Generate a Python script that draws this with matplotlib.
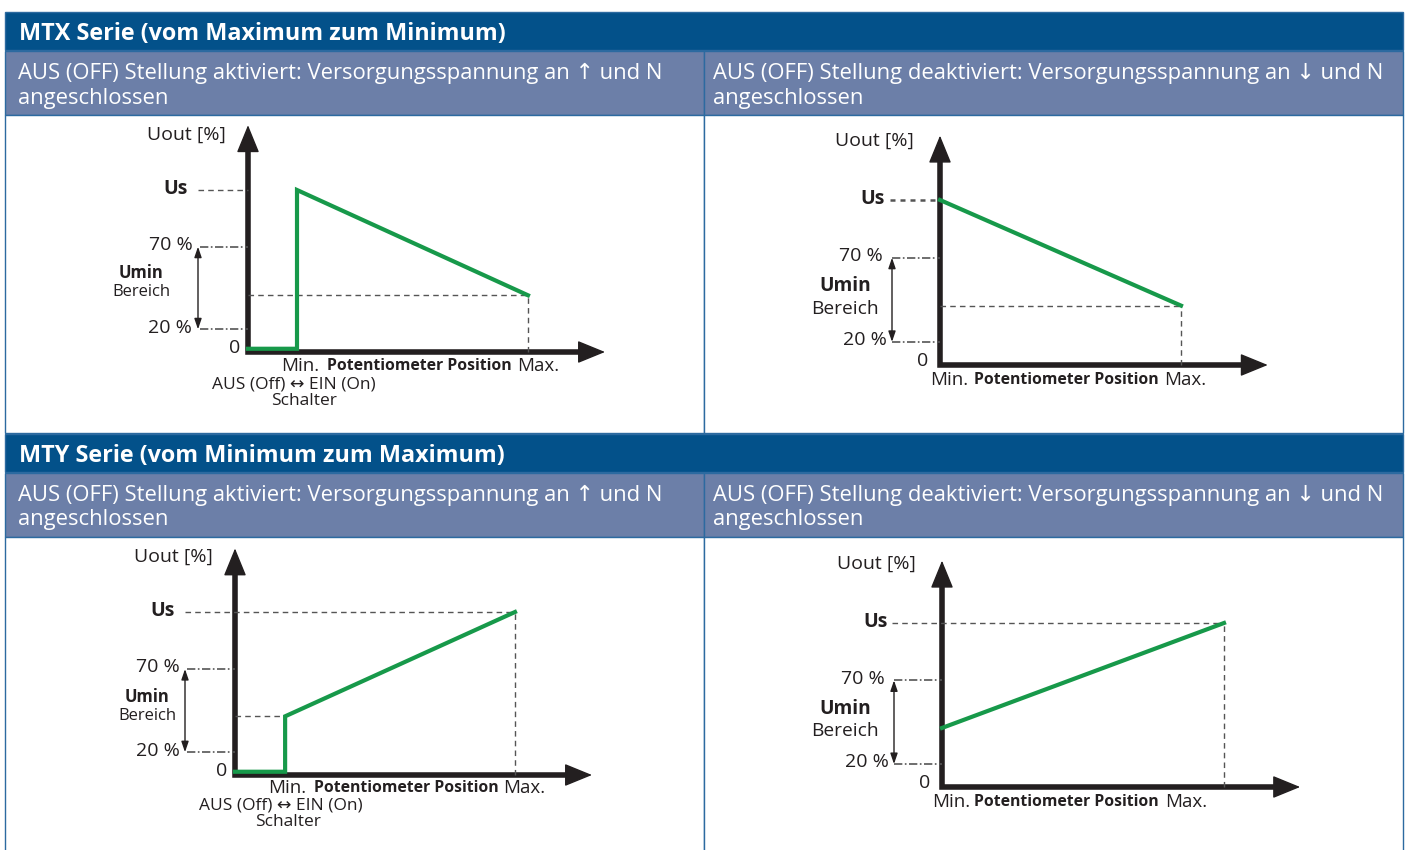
import matplotlib
matplotlib.use("Agg")
import matplotlib.pyplot as plt
from matplotlib.patches import Rectangle

plt.rcParams['font.family'] = ['Open Sans', 'DejaVu Sans']

W, H = 1406, 850
DARK = "#03518a"
LIGHT = "#6c7fa8"
BORDER = "#2c6aa0"
GREEN = "#17994a"
INK = "#231f20"
GREY = "#555555"

# texts
titles = ["MTX Serie (vom Maximum zum Minimum)", "MTY Serie (vom Minimum zum Maximum)"]
sub_on = ["AUS (OFF) Stellung aktiviert: Versorgungsspannung an \u2191 und N", "angeschlossen"]
sub_off = ["AUS (OFF) Stellung deaktiviert: Versorgungsspannung an \u2193 und N", "angeschlossen"]

# curve data: x = potentiometer position (0 = Min, 1 = Max), y = Uout (100 = Us)
mtx_on_x = [0.0, 0.175, 0.175, 1.0]
mtx_on_y = [2.0, 2.0, 100.0, 35.0]
mtx_off_x = [0.0, 1.0]
mtx_off_y = [100.0, 36.0]
mty_on_x = [0.0, 0.179, 0.179, 1.0]
mty_on_y = [2.0, 2.0, 36.0, 100.0]
mty_off_x = [0.0, 1.0]
mty_off_y = [36.0, 100.0]
level_70 = 65.0
level_20 = 14.0

fig = plt.figure(figsize=(W / 100, H / 100), dpi=100)
bg = fig.add_axes([0, 0, 1, 1])
bg.set_xlim(0, W)
bg.set_ylim(H, 0)
bg.axis("off")

# table structure
for top in [12, 434]:
    bg.add_patch(Rectangle((5, top), 1398, 38, facecolor=DARK, edgecolor=BORDER, lw=1))
    bg.add_patch(Rectangle((5, top + 39), 699, 64, facecolor=LIGHT, edgecolor=BORDER, lw=1))
    bg.add_patch(Rectangle((704, top + 39), 699, 64, facecolor=LIGHT, edgecolor=BORDER, lw=1))
    bg.add_patch(Rectangle((5, top + 103), 699, 318, facecolor="white", edgecolor=BORDER, lw=1))
    bg.add_patch(Rectangle((704, top + 103), 699, 318, facecolor="white", edgecolor=BORDER, lw=1))
for i, top in enumerate([12, 434]):
    bg.text(19, top + 22, titles[i], color="white", fontsize=16.8, fontweight="bold", va="center")
    for col, sub in [(18, sub_on), (713, sub_off)]:
        bg.text(col, top + 61, sub[0], color="white", fontsize=15.8, va="center")
        bg.text(col, top + 86, sub[1], color="white", fontsize=15.8, va="center")


def draw_panel(px, xs, ys, L, switch, us_full, end_dashes):
    x0, base, xmax, us = px
    ax = fig.add_axes([x0 / W, 1 - base / H, (xmax - x0) / W, (base - us) / H])
    ax.set_xlim(0, 1)
    ax.set_ylim(0, 100)
    ax.axis("off")
    sx = 1.0 / (xmax - x0)
    sy = 100.0 / (base - us)

    # axes: L-shaped line plus filled heads
    ax.plot([0, 0, L["xtip"] - 12 * sx], [L["ytip"] - 12 * sy, 0, 0], color=INK, lw=4,
            solid_joinstyle="miter", solid_capstyle="butt", clip_on=False)
    head = dict(arrowstyle="-|>,head_length=1.1,head_width=0.45", lw=1, color=INK,
                shrinkA=0, shrinkB=0, mutation_scale=16)
    ax.annotate("", xy=(0, L["ytip"]), xytext=(0, L["ytip"] - 20 * sy), arrowprops=head,
                annotation_clip=False)
    ax.annotate("", xy=(L["xtip"], 0), xytext=(L["xtip"] - 20 * sx, 0), arrowprops=head,
                annotation_clip=False)

    # reference lines
    if us_full:
        ax.plot([-50 * sx, xs[-1]], [100, 100], color=GREY, lw=1, ls=(0, (4, 3)), clip_on=False)
        ax.plot([1, 1], [0, 100], color=GREY, lw=1, ls=(0, (4, 3)), clip_on=False)
    else:
        ls = (0, (2, 2)) if L.get("dotted") else (0, (4, 3))
        lw = 1.8 if L.get("dotted") else 1
        ax.plot([-50 * sx, 0], [100, 100], color=GREY, lw=lw, ls=ls, clip_on=False)
    for lev in [level_70, level_20]:
        ax.plot([L["dd"] * sx, 0], [lev, lev], color=GREY, lw=1.2, ls=(0, (5, 1.5, 1, 1.5)), clip_on=False)
    if end_dashes is not None:
        ex, ey = end_dashes
        ax.plot([0, ex], [ey, ey], color=GREY, lw=1, ls=(0, (4, 3)), clip_on=False)
        if ex == 1:
            ax.plot([1, 1], [0, ey], color=GREY, lw=1, ls=(0, (4, 3)), clip_on=False)
    # Umin range double arrow
    ax.annotate("", xy=(L["da"] * sx, level_20), xytext=(L["da"] * sx, level_70),
                arrowprops=dict(arrowstyle="<|-|>,head_length=0.35,head_width=0.12", lw=1, color=INK,
                                shrinkA=0, shrinkB=0, mutation_scale=18), annotation_clip=False)

    # curve
    ax.plot(xs, ys, color=GREEN, lw=3, clip_on=False, solid_joinstyle="miter")

    def t(s, dx, lev, **kw):
        ax.text(dx * sx, lev, s, color=INK, va="center", clip_on=False, **kw)

    t("Uout [%]", L["uout"][0], L["uout"][1], ha="center", fontsize=14)
    t("Us", L["us"], 100.5, ha="right", fontsize=14, fontweight="bold")
    t("70 %", L["p70"], level_70 + 1, ha="right", fontsize=14)
    t("20 %", L["p20"], level_20 + 1, ha="right", fontsize=14)
    t("Umin", L["umin"][0], L["umin"][1], ha="center", fontsize=L["fs"], fontweight="bold")
    t("Bereich", L["umin"][0], L["umin"][2], ha="center", fontsize=L["fs"])
    t("0", L["zero"], 2.5, ha="right", fontsize=14)
    t("Min.", L["mn"], L["xl"], ha="left", fontsize=13.5)
    t("Potentiometer Position", L["pp"], L["xl"], ha="center", fontsize=11.3, fontweight="bold")
    t("Max.", L["mx"], L["xl"], ha="left", fontsize=13.5)
    if switch:
        t("AUS (Off) \u2194 EIN (On)", L["sw"][0], L["sw"][1], ha="center", fontsize=12.5)
        t("Schalter", L["sw"][2], L["sw"][3], ha="center", fontsize=12.5)


lay1 = dict(ytip=140, xtip=1.275, dd=-48, da=-50, uout=(-62, 134), us=-60, p70=-55, p20=-56,
            umin=(-107, 49, 37), fs=12, zero=-8, mn=33, pp=171, mx=269, xl=-8.5,
            sw=(46, -19.8, 56, -30))
lay2 = dict(ytip=139, xtip=1.36, dd=-48, da=-48, uout=(-66, 136), us=-55, p70=-57, p20=-53,
            umin=(-95, 48, 34), fs=13.8, zero=-12, mn=-10, pp=126, mx=224, xl=-9, dotted=True)
lay3 = dict(ytip=139, xtip=1.275, dd=-48, da=-50, uout=(-62, 134), us=-60, p70=-55, p20=-55,
            umin=(-88, 48, 36), fs=12, zero=-8, mn=33, pp=171, mx=268, xl=-8,
            sw=(46, -19, 53, -29))
lay4 = dict(ytip=138, xtip=1.27, dd=-48, da=-48, uout=(-66, 136), us=-54, p70=-57, p20=-53,
            umin=(-97, 47.6, 34), fs=13.8, zero=-12, mn=-10, pp=124, mx=223, xl=-9)

draw_panel((248, 352, 528, 190), mtx_on_x, mtx_on_y, lay1, True, False, (1, mtx_on_y[-1]))
draw_panel((940, 365, 1181, 200), mtx_off_x, mtx_off_y, lay2, False, False, (1, mtx_off_y[-1]))
draw_panel((235, 775, 515, 612), mty_on_x, mty_on_y, lay3, True, True, (mty_on_x[1], mty_on_y[2]))
draw_panel((942, 787, 1224, 623), mty_off_x, mty_off_y, lay4, False, True, None)

fig.savefig("out.png", dpi=100)
